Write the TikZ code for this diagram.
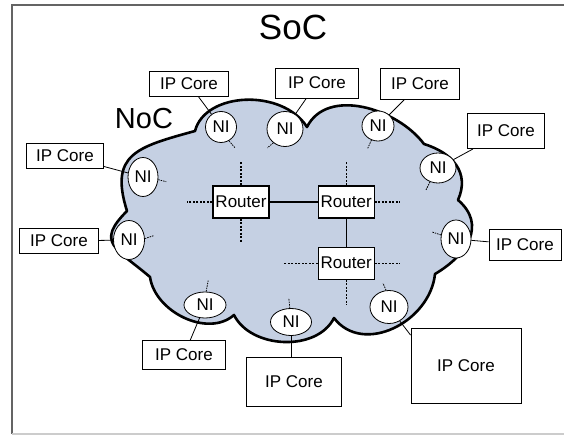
\documentclass[tikz,border=0pt]{standalone}
\usepackage{fontspec}
\setmainfont{Liberation Sans}
\usepackage{tikz}
\usetikzlibrary{positioning,shapes.geometric}
\usepackage{xcolor}
\definecolor{nocfill}{RGB}{197,208,227}
\definecolor{socframe}{RGB}{100,100,100}

\begin{document}
\begin{tikzpicture}[x=1pt, y=-1pt, font=\fontsize{17}{19}\selectfont, node distance=2mm]
\tikzset{core/.style={draw, fill=white, line width=0.9pt, minimum width=79pt, minimum height=26pt, inner sep=1pt},ni/.style={draw, ellipse, fill=white, line width=0.8pt, inner sep=0pt, minimum width=31pt, minimum height=31pt},router/.style={draw, fill=white, line width=1.2pt, inner sep=1pt, minimum width=56pt, minimum height=32pt},link/.style={line width=0.8pt},stub/.style={line width=1.1pt, dash pattern=on 2pt off 1.5pt},nistub/.style={line width=0.8pt, dash pattern=on 1.5pt off 1pt}}
\useasboundingbox (0,0) rectangle (564,435);
\draw[socframe, line width=1.4pt] (566,5) -| (12,434); \draw[gray!40, line width=1.2pt] (12,434) -- (566,434);
\node[font=\fontsize{35}{40}\selectfont] (soc) at (293,27) {SoC};
\filldraw[fill=nocfill, line width=2.6pt, line join=round] (195,131) .. controls (205,92) and (282,88) .. (307,127) .. controls (327,87) and (397,108) .. (424,144) .. controls (453,153) and (470,173) .. (458,200) .. controls (487,225) and (467,255) .. (435,274) .. controls (430,322) and (363,356) .. (334,318) .. controls (317,352) and (251,349) .. (234,315) .. controls (208,338) and (155,312) .. (150,277) .. controls (116,248) and (95,243) .. (127,211) .. controls (109,154) and (137,147) .. (195,131) -- cycle;
\node[font=\fontsize{29}{33}\selectfont] (noc) at (144,119) {NoC};
\node[router] (r1) at (241,202) {Router};
\node[router, right=48pt of r1] (r2) {Router};
\node[router, below=28pt of r2] (r3) {Router};
\draw[line width=1.2pt] (r1) -- (r2); \draw[line width=1.2pt] (r2) -- (r3);
\draw[stub] (r1.north) -- ++(0,-24); \draw[stub] (r1.west) -- ++(-25,0); \draw[stub] (r1.south) -- ++(0,24);
\draw[stub] (r2.north) -- ++(0,-24); \draw[stub] (r2.east) -- ++(25,0);
\draw[stub] (r3.west) -- ++(-34,0); \draw[stub] (r3.east) -- ++(25,0); \draw[stub] (r3.south) -- ++(0,25);
\node[ni] (ni1) at (221,127) {NI};
\node[ni, minimum width=36pt, minimum height=35pt] (ni2) at (285,129) {NI};
\node[ni, minimum width=32pt, minimum height=30pt] (ni3) at (378,126) {NI};
\node[ni, minimum width=36pt, minimum height=30pt] (ni4) at (438,168) {NI};
\node[ni, minimum width=30pt, minimum height=38pt] (ni5) at (456,239) {NI};
\node[ni, minimum width=38pt, minimum height=33pt] (ni6) at (389,307) {NI};
\node[ni, minimum width=41pt, minimum height=27pt] (ni7) at (291,322) {NI};
\node[ni, minimum width=42pt, minimum height=26pt] (ni8) at (205,305) {NI};
\node[ni, minimum width=31pt, minimum height=39pt] (ni9) at (129,240) {NI};
\node[ni, minimum width=30pt, minimum height=39pt] (ni10) at (143,177) {NI};
\draw[nistub] (ni1.-60) -- ++(6,7); \draw[nistub] (ni2.-130) -- ++(-6,5); \draw[nistub] (ni3.-115) -- ++(-4,9); \draw[nistub] (ni4.-120) -- ++(-4,8); \draw[nistub] (ni5.165) -- ++(-9,-3);
\draw[nistub] (ni6.100) -- ++(-3,-7); \draw[nistub] (ni7.95) -- ++(-1,-10); \draw[nistub] (ni8.85) -- ++(2,-11); \draw[nistub] (ni9.5) -- ++(9,-3); \draw[nistub] (ni10.-10) -- ++(8,2);
\node[core, minimum height=25pt] (core1) at (189,84) {IP Core};
\node[core, minimum width=83pt, minimum height=30pt] (core2) at (317,83) {IP Core};
\node[core, minimum height=31pt] (core3) at (420,84) {IP Core};
\node[core, minimum width=77pt, minimum height=35pt] (core4) at (506,131) {IP Core};
\node[core, minimum width=72pt, minimum height=31pt] (core5) at (525,245) {IP Core};
\node[core, minimum width=110pt, minimum height=75pt] (core6) at (466,366) {IP Core};
\node[core, minimum width=95pt, minimum height=49pt] (core7) at (294,382) {IP Core};
\node[core, minimum width=83pt, minimum height=29pt] (core8) at (184,355) {IP Core};
\node[core, minimum height=25pt] (core9) at (59,241) {IP Core};
\node[core, minimum width=77pt, minimum height=25pt] (core10) at (65,156) {IP Core};
\draw[link] (ni1) -- (core1); \draw[link] (ni2) -- (core2); \draw[link] (ni3) -- (core3); \draw[link] (ni4) -- (core4); \draw[link] (ni5) -- (core5);
\draw[link] (ni6) -- ([yshift=-7pt]core6.north west); \draw[link] (ni7.south) -- (ni7.south |- core7.north); \draw[link] (ni8) -- (core8); \draw[link] (ni9) -- (core9); \draw[link] (ni10) -- (core10);
\end{tikzpicture}
\end{document}
